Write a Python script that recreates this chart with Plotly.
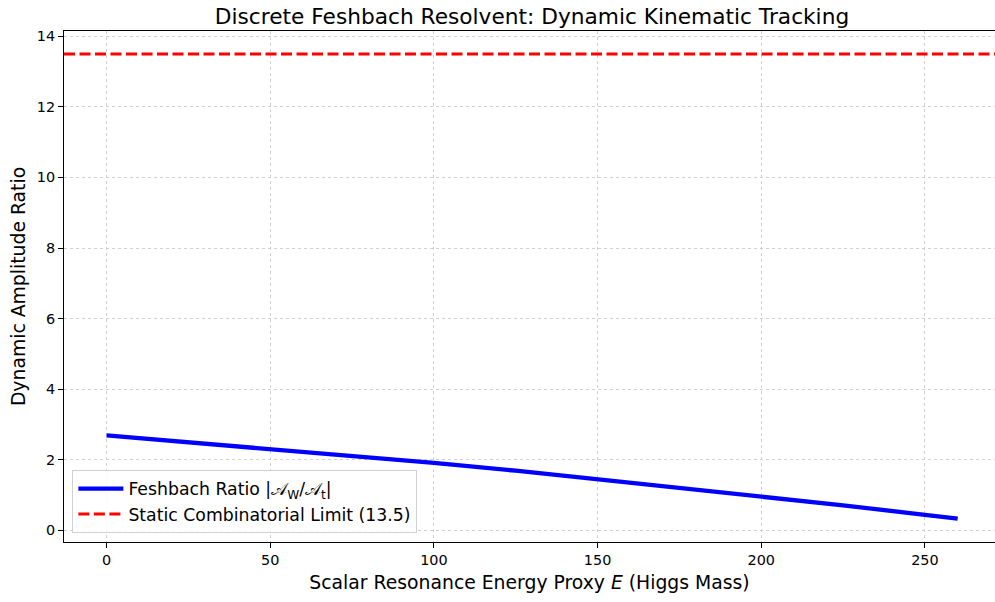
import plotly.graph_objects as go

# Data
energy = [0, 25, 50, 75, 100, 125, 150, 175, 200, 225, 250, 260]
ratio = [2.69, 2.50, 2.31, 2.11, 1.91, 1.69, 1.45, 1.21, 0.97, 0.71, 0.44, 0.33]
static_limit = 13.5
y_ticks = [0, 2, 4, 6, 8, 10, 12, 14]
x_ticks = [0, 50, 100, 150, 200, 250]

FONT = "DejaVu Sans"

fig = go.Figure()
fig.add_trace(go.Scatter(
    x=energy, y=ratio, mode="lines",
    line=dict(color="#0000ff", width=4.3),
    name="Feshbach Ratio |𝒜<sub>W</sub>/𝒜<sub>t</sub>|",
    legendrank=1,
))
fig.add_hline(
    y=static_limit,
    line=dict(color="#ff0000", width=3, dash="11px,4.5px"),
    showlegend=True,
    name=f"Static Combinatorial Limit ({static_limit})",
    legendrank=2,
)

fig.update_layout(
    width=995, height=602,
    margin=dict(l=64, r=0, t=31, b=60, autoexpand=False),
    paper_bgcolor="white", plot_bgcolor="white",
    font=dict(family=FONT, size=14.4, color="black"),
    title=dict(
        text="Discrete Feshbach Resolvent: Dynamic Kinematic Tracking",
        x=532 / 995, xref="container", xanchor="center",
        y=1 - 16 / 602, yref="container", yanchor="middle",
        font=dict(size=21.7, family=FONT, color="black"),
    ),
    legend=dict(
        x=0.009, y=0.018, xanchor="left", yanchor="bottom",
        bgcolor="rgba(255,255,255,0.85)", bordercolor="#d0d0d0", borderwidth=1,
        font=dict(size=17.3, family=FONT),
        itemwidth=45,
    ),
    showlegend=True,
)
fig.update_xaxes(
    range=[-13.0, 271.4],
    tickvals=x_ticks,
    ticks="outside", ticklen=5, tickwidth=1, tickcolor="black",
    showline=True, linecolor="black", linewidth=1, mirror=True,
    showgrid=True, gridcolor="#d0d0d0", griddash="dot", gridwidth=1,
    zeroline=False, automargin=False,
    tickfont=dict(size=14.4),
    title=dict(text="Scalar Resonance Energy Proxy <i>E</i> (Higgs Mass)",
               font=dict(size=18.8), standoff=8),
)
fig.update_yaxes(
    range=[-0.33, 14.15],
    tickvals=y_ticks,
    ticks="outside", ticklen=5, tickwidth=1, tickcolor="black",
    showline=True, linecolor="black", linewidth=1,
    showgrid=True, gridcolor="#d0d0d0", griddash="dot", gridwidth=1,
    zeroline=False, automargin=False,
    tickfont=dict(size=14.4),
    title=dict(text="Dynamic Amplitude Ratio", font=dict(size=18.8), standoff=6),
)

fig.write_html(
    "out.html",
    config={"displayModeBar": False},
    post_script="document.body.style.margin='0';document.body.style.overflow='hidden';",
)
